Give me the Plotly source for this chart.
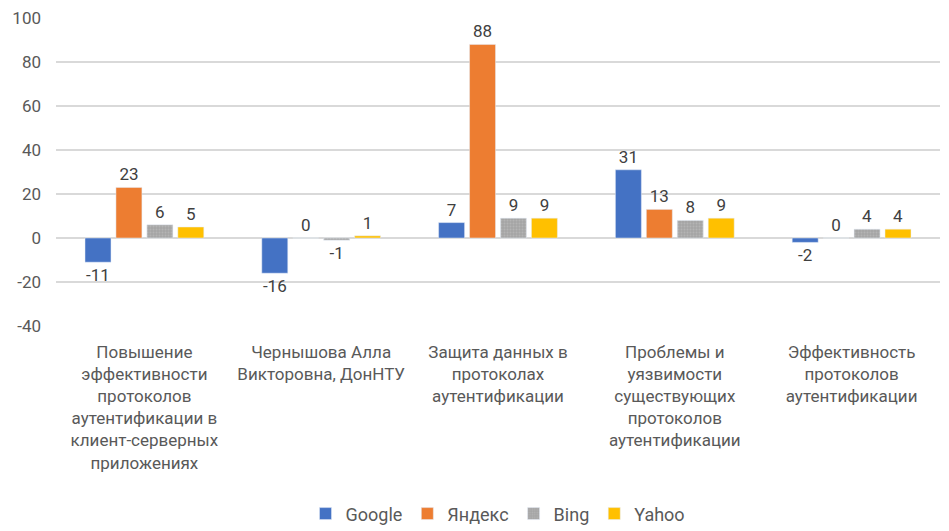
import plotly.graph_objects as go

# Категории (подписи оси X)
categories = [
    'Повышение<br>эффективности<br>протоколов<br>аутентификации в<br>клиент-серверных<br>приложениях',
    'Чернышова Алла<br>Викторовна, ДонНТУ',
    'Защита данных в<br>протоколах<br>аутентификации',
    'Проблемы и<br>уязвимости<br>существующих<br>протоколов<br>аутентификации',
    'Эффективность<br>протоколов<br>аутентификации',
]

google = [-11, -16, 7, 31, -2]
yandex = [23, 0, 88, 13, 0]
bing = [6, -1, 9, 8, 4]
yahoo = [5, 1, 9, 9, 4]

y_ticks = [-40, -20, 0, 20, 40, 60, 80, 100]

font_main = 'Roboto, sans-serif'

fig = go.Figure()
series = [
    ('Google', google, '#4472c4', None),
    ('Яндекс', yandex, '#ed7d31', None),
    ('Bing', bing, '#a5a5a5', dict(shape='.', fgcolor='#c4c4c4', size=3, solidity=0.3)),
    ('Yahoo', yahoo, '#ffc000', None),
]
for name, vals, color, patt in series:
    marker = dict(color=color)
    if patt:
        marker['pattern'] = patt
    fig.add_trace(go.Bar(x=categories, y=vals, name=name, marker=marker,
                         text=[str(v) for v in vals], textposition='outside',
                         textfont=dict(size=17, color='#404040', family=font_main),
                         cliponaxis=False))

fig.update_layout(
    width=949, height=531,
    margin=dict(l=56, r=9, t=18, b=205, autoexpand=False),
    paper_bgcolor='white', plot_bgcolor='white',
    barmode='group', bargap=0.3, bargroupgap=0.16,
    font=dict(family=font_main, size=17, color='#595959'),
    xaxis=dict(showgrid=False, showline=False, ticks='', tickfont=dict(size=17),
               ticklabelstandoff=14, automargin=False),
    yaxis=dict(range=[-40, 100], tickvals=y_ticks, ticktext=[str(t) for t in y_ticks],
               showgrid=True, gridcolor='#d9d9d9', gridwidth=1.5,
               zeroline=True, zerolinecolor='#d9d9d9', zerolinewidth=1.5,
               tickfont=dict(size=17), ticklabelstandoff=14, automargin=False),
    legend=dict(orientation='h', x=0.5, xanchor='center', y=-0.61, yanchor='middle',
                font=dict(size=18, color='#595959'), itemwidth=30, traceorder='normal'),
)

# убираем отступы страницы, чтобы график занимал всё окно
fig.write_html("out.html", config={'displayModeBar': False},
               post_script="document.body.style.margin='0';")
